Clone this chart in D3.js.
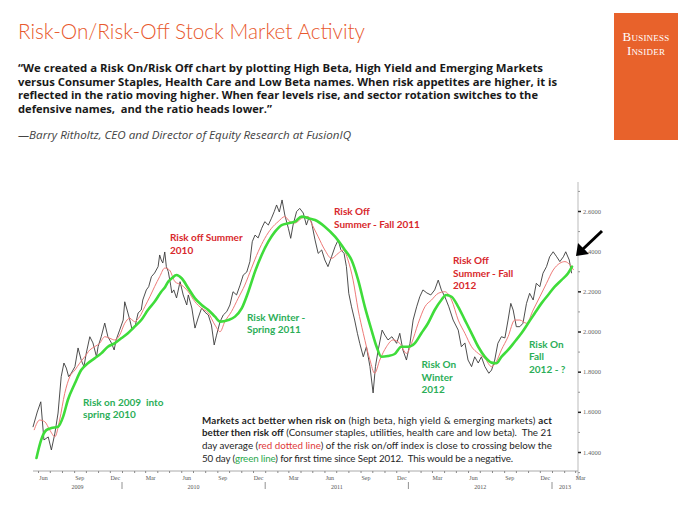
<!DOCTYPE html>
<html><head><meta charset="utf-8">
<script src="https://cdn.jsdelivr.net/npm/d3@7"></script>
<style>html,body{margin:0;padding:0;background:#fff;} svg{display:block}</style>
</head><body>
<svg id="c" width="700" height="525"></svg>
<script>
// ---------- DATA ----------
const titleText = "Risk-On/Risk-Off Stock Market Activity";
const quoteLines = [
  "\u201CWe created a Risk On/Risk Off chart by plotting High Beta, High Yield and Emerging Markets",
  "versus Consumer Staples, Health Care and Low Beta names. When risk appetites are higher, it is",
  "reflected in the ratio moving higher. When fear levels rise, and sector rotation switches to the",
  "defensive names,  and the ratio heads lower.\u201D"
];
const attribution = "\u2014Barry Ritholtz, CEO and Director of Equity Research at FusionIQ";

// Risk on / risk off ratio (daily close, sampled)
const price = [
["2009-05-19",1.524],["2009-05-30",1.599],["2009-06-08",1.650],["2009-06-16",1.460],["2009-06-27",1.475],
["2009-07-05",1.410],["2009-07-14",1.494],["2009-07-22",1.594],["2009-07-30",1.775],["2009-08-06",1.843],
["2009-08-12",1.818],["2009-08-18",1.775],["2009-08-25",1.793],["2009-09-03",1.825],["2009-09-11",1.918],
["2009-09-19",1.858],["2009-09-26",1.825],["2009-10-02",1.893],["2009-10-11",1.974],["2009-10-19",1.943],
["2009-10-28",1.874],["2009-11-01",1.924],["2009-11-09",1.974],["2009-11-18",2.042],["2009-11-26",1.974],
["2009-12-05",1.943],["2009-12-12",1.908],["2009-12-17",1.958],["2009-12-26",2.007],["2010-01-04",2.057],
["2010-01-08",2.148],["2010-01-14",2.107],["2010-01-21",2.057],["2010-01-27",2.007],["2010-02-03",2.022],
["2010-02-11",2.092],["2010-02-19",2.107],["2010-02-23",2.157],["2010-03-04",2.207],["2010-03-10",2.223],
["2010-03-17",2.273],["2010-03-25",2.291],["2010-04-03",2.323],["2010-04-07",2.381],["2010-04-11",2.356],
["2010-04-15",2.341],["2010-04-20",2.396],["2010-04-24",2.323],["2010-04-29",2.298],["2010-05-05",2.231],
["2010-05-08",2.192],["2010-05-13",2.207],["2010-05-20",2.167],["2010-05-29",2.248],["2010-06-06",2.182],
["2010-06-15",2.132],["2010-06-19",2.182],["2010-06-28",2.117],["2010-07-06",2.017],["2010-07-14",2.067],
["2010-07-23",2.117],["2010-07-31",2.097],["2010-08-09",2.082],["2010-08-17",2.032],["2010-08-24",1.933],
["2010-08-30",1.982],["2010-09-08",2.049],["2010-09-16",2.082],["2010-09-25",2.099],["2010-10-03",2.132],
["2010-10-11",2.198],["2010-10-20",2.182],["2010-10-29",2.231],["2010-11-06",2.281],["2010-11-15",2.296],
["2010-11-23",2.348],["2010-11-29",2.447],["2010-12-06",2.480],["2010-12-14",2.466],["2010-12-23",2.514],
["2010-12-31",2.547],["2011-01-09",2.530],["2011-01-17",2.564],["2011-01-24",2.597],["2011-01-30",2.630],
["2011-02-06",2.595],["2011-02-13",2.655],["2011-02-20",2.580],["2011-03-01",2.514],["2011-03-07",2.464],
["2011-03-13",2.530],["2011-03-22",2.597],["2011-03-30",2.613],["2011-04-08",2.590],["2011-04-16",2.530],
["2011-04-22",2.564],["2011-04-29",2.545],["2011-05-08",2.456],["2011-05-16",2.389],["2011-05-25",2.406],
["2011-06-02",2.356],["2011-06-10",2.323],["2011-06-19",2.372],["2011-06-28",2.422],["2011-07-06",2.456],
["2011-07-13",2.406],["2011-07-21",2.389],["2011-07-27",2.323],["2011-08-02",2.190],["2011-08-09",2.123],
["2011-08-17",2.057],["2011-08-24",1.991],["2011-08-30",1.941],["2011-09-08",1.874],["2011-09-16",1.924],
["2011-09-25",1.825],["2011-10-03",1.694],["2011-10-09",1.825],["2011-10-16",1.908],["2011-10-26",2.007],
["2011-11-02",1.982],["2011-11-10",1.958],["2011-11-20",1.974],["2011-12-02",1.941],["2011-12-10",1.991],
["2011-12-18",1.908],["2011-12-27",1.858],["2012-01-05",1.941],["2012-01-13",2.057],["2012-01-22",2.123],
["2012-01-30",2.173],["2012-02-07",2.207],["2012-02-17",2.192],["2012-02-27",2.182],["2012-03-08",2.207],
["2012-03-17",2.256],["2012-03-25",2.207],["2012-04-03",2.173],["2012-04-13",2.123],["2012-04-24",2.057],
["2012-05-07",2.007],["2012-05-15",1.924],["2012-05-24",1.943],["2012-06-01",1.858],["2012-06-10",1.825],
["2012-06-18",1.874],["2012-06-27",1.843],["2012-07-05",1.874],["2012-07-14",1.825],["2012-07-24",1.792],
["2012-07-31",1.808],["2012-08-08",1.858],["2012-08-16",1.941],["2012-08-25",1.974],["2012-09-03",1.968],
["2012-09-11",2.057],["2012-09-18",2.140],["2012-09-24",2.107],["2012-10-02",2.024],["2012-10-11",2.024],
["2012-10-19",2.041],["2012-10-28",2.140],["2012-11-05",2.190],["2012-11-14",2.157],["2012-11-22",2.240],
["2012-12-01",2.223],["2012-12-09",2.290],["2012-12-18",2.323],["2012-12-26",2.372],["2013-01-04",2.397],
["2013-01-13",2.372],["2013-01-21",2.348],["2013-01-30",2.372],["2013-02-05",2.397],["2013-02-14",2.356],
["2013-02-20",2.290]
];

// 21-day average (red)
const ma21 = [
["2009-05-22",1.509],["2009-06-05",1.559],["2009-06-18",1.551],["2009-07-01",1.509],["2009-07-14",1.476],
["2009-07-26",1.559],["2009-08-08",1.692],["2009-08-21",1.775],["2009-09-03",1.808],["2009-09-15",1.842],
["2009-09-28",1.874],["2009-10-11",1.908],["2009-10-23",1.924],["2009-11-05",1.941],["2009-11-18",1.974],
["2009-12-01",1.966],["2009-12-13",1.958],["2009-12-26",1.982],["2010-01-08",2.041],["2010-01-21",2.066],
["2010-02-02",2.049],["2010-02-15",2.074],["2010-02-28",2.123],["2010-03-13",2.173],["2010-03-25",2.223],
["2010-04-07",2.273],["2010-04-20",2.316],["2010-05-02",2.306],["2010-05-16",2.248],["2010-06-02",2.231],
["2010-06-19",2.198],["2010-07-06",2.148],["2010-07-23",2.115],["2010-08-09",2.092],["2010-08-26",2.032],
["2010-09-08",1.999],["2010-09-20",2.049],["2010-10-07",2.099],["2010-10-24",2.165],["2010-11-10",2.231],
["2010-11-27",2.315],["2010-12-14",2.397],["2010-12-31",2.464],["2011-01-17",2.514],["2011-02-03",2.547],
["2011-02-20",2.572],["2011-03-05",2.547],["2011-03-18",2.540],["2011-04-04",2.564],["2011-04-21",2.572],
["2011-04-29",2.539],["2011-05-16",2.472],["2011-06-02",2.406],["2011-06-19",2.364],["2011-07-06",2.389],
["2011-07-19",2.406],["2011-07-31",2.356],["2011-08-13",2.256],["2011-08-26",2.107],["2011-09-08",1.991],
["2011-09-25",1.858],["2011-10-07",1.792],["2011-10-20",1.858],["2011-11-06",1.924],["2011-11-23",1.958],
["2011-12-10",1.941],["2011-12-27",1.891],["2012-01-09",1.941],["2012-01-26",2.041],["2012-02-12",2.123],
["2012-02-29",2.157],["2012-03-17",2.190],["2012-04-03",2.198],["2012-04-20",2.157],["2012-05-07",2.057],
["2012-05-24",1.991],["2012-06-10",1.924],["2012-06-27",1.891],["2012-07-14",1.866],["2012-07-31",1.825],
["2012-08-12",1.850],["2012-08-25",1.908],["2012-09-11",1.974],["2012-09-28",2.057],["2012-10-11",2.057],
["2012-10-28",2.041],["2012-11-14",2.107],["2012-12-01",2.173],["2012-12-18",2.240],["2013-01-04",2.306],
["2013-01-21",2.340],["2013-02-03",2.348],["2013-02-16",2.331],["2013-02-25",2.306]
];

// 50-day average (green)
const ma50 = [
["2009-05-28",1.370],["2009-06-09",1.460],["2009-06-22",1.509],["2009-07-05",1.519],["2009-07-22",1.526],
["2009-08-04",1.576],["2009-08-16",1.659],["2009-09-03",1.742],["2009-09-19",1.808],["2009-10-06",1.842],
["2009-10-23",1.866],["2009-11-09",1.891],["2009-11-26",1.924],["2009-12-13",1.941],["2009-12-30",1.966],
["2010-01-16",1.991],["2010-02-02",2.024],["2010-02-19",2.057],["2010-03-08",2.107],["2010-03-25",2.148],
["2010-04-11",2.198],["2010-04-21",2.222],["2010-04-29",2.249],["2010-05-08",2.265],["2010-05-20",2.281],
["2010-06-02",2.265],["2010-06-19",2.215],["2010-07-06",2.165],["2010-07-23",2.132],["2010-08-09",2.107],
["2010-08-26",2.074],["2010-09-08",2.049],["2010-09-29",2.057],["2010-10-16",2.074],["2010-11-02",2.115],
["2010-11-19",2.198],["2010-12-06",2.298],["2010-12-23",2.381],["2011-01-09",2.447],["2011-01-26",2.497],
["2011-02-12",2.530],["2011-03-01",2.539],["2011-03-18",2.547],["2011-04-04",2.572],["2011-04-21",2.564],
["2011-05-08",2.555],["2011-06-02",2.522],["2011-06-28",2.472],["2011-07-23",2.406],["2011-08-09",2.356],
["2011-08-26",2.256],["2011-09-12",2.123],["2011-09-29",2.007],["2011-10-12",1.924],["2011-10-24",1.874],
["2011-11-10",1.878],["2011-11-27",1.888],["2011-12-14",1.924],["2011-12-31",1.924],["2012-01-17",1.941],
["2012-02-03",1.991],["2012-02-20",2.041],["2012-03-08",2.107],["2012-03-25",2.157],["2012-04-06",2.182],
["2012-04-20",2.173],["2012-05-07",2.123],["2012-05-24",2.057],["2012-06-10",1.991],["2012-06-27",1.924],
["2012-07-14",1.874],["2012-07-31",1.845],["2012-08-12",1.842],["2012-08-25",1.874],["2012-09-11",1.908],
["2012-09-28",1.949],["2012-10-15",1.991],["2012-11-01",2.041],["2012-11-18",2.091],["2012-12-05",2.140],
["2012-12-22",2.182],["2013-01-08",2.223],["2013-01-25",2.256],["2013-02-11",2.290],["2013-02-21",2.323]
];

const yTickValues = [1.4, 1.6, 1.8, 2.0, 2.2, 2.4, 2.6];
const yMinorValues = [1.3, 1.5, 1.7, 1.9, 2.1, 2.3, 2.5, 2.7];
const monthLabels = ["Jun","Sep","Dec","Mar"];
const yearLabels = ["2009","2010","2011","2012","2013"];

const annotations = [
  {lines:["Risk off Summer","2010"], x:170, y:241, color:"red"},
  {lines:["Risk Winter -","Spring 2011"], x:247, y:320.5, color:"green"},
  {lines:["Risk on 2009  into","spring 2010"], x:83, y:405.5, color:"green"},
  {lines:["Risk Off","Summer - Fall 2011"], x:334, y:215, color:"red"},
  {lines:["Risk Off","Summer - Fall","2012"], x:453, y:264, color:"red"},
  {lines:["Risk On","Winter","2012"], x:421.5, y:368, color:"green"},
  {lines:["Risk On","Fall","2012 - ?"], x:529, y:347.5, color:"green"}
];

const noteLines = [
  [{t:"Markets act better when risk on", b:true},{t:" (high beta, high yield & emerging markets) "},{t:"act", b:true}],
  [{t:"better then risk off", b:true},{t:" (Consumer staples, utilities, health care and low beta).  The 21"}],
  [{t:"day average ("},{t:"red dotted line", c:"red"},{t:") of the risk on/off index is close to crossing below the"}],
  [{t:"50 day ("},{t:"green line", c:"green"},{t:") for first time since Sept 2012.  This would be a negative."}]
];

// ---------- DRAW ----------
const C = {title:"#e8592d", red:"#d8282c", green:"#2cae58", lineGreen:"#3fdc3a", lineRed:"#ee7a78", price:"#3a3a3a", bi:"#e8622b"};
const svg = d3.select("#c");
const parse = d3.timeParse("%Y-%m-%d");

// header
svg.append("text").attr("x",18).attr("y",38.5)
  .attr("font-family","Lato, 'Open Sans', sans-serif").attr("font-weight",300)
  .attr("font-size",21).attr("fill",C.title)
  .attr("textLength",347).attr("lengthAdjust","spacingAndGlyphs").text(titleText);

const qWidths = [525, 539, 520, 254];
quoteLines.forEach((l,i)=>{
  svg.append("text").attr("x",18).attr("y",72 + i*13.6)
    .attr("font-family","'Open Sans', sans-serif").attr("font-weight",700)
    .attr("font-size",11.4).attr("fill","#1a1a1a").style("white-space","pre")
    .attr("textLength",qWidths[i]).attr("lengthAdjust","spacingAndGlyphs").text(l);
});
svg.append("text").attr("x",18).attr("y",138.5)
  .attr("font-family","'Open Sans', sans-serif").attr("font-style","italic")
  .attr("font-size",10.5).attr("fill","#444")
  .attr("textLength",333).attr("lengthAdjust","spacingAndGlyphs").text(attribution);

// BI logo
svg.append("rect").attr("x",614).attr("y",13).attr("width",64).attr("height",127).attr("fill",C.bi);
["Business","Insider"].forEach((w,i)=>{
  svg.append("text").attr("x",646).attr("y",41+i*13.5).attr("text-anchor","middle")
    .attr("font-family","'Liberation Serif', 'DejaVu Serif', serif").attr("font-size",13)
    .attr("font-variant","small-caps").attr("fill","#fff").attr("letter-spacing",0.2).text(w);
});

// scales
const x = d3.scaleTime().domain([new Date(2010,0,1), new Date(2013,0,1)]).range([122,552]);
const y = d3.scaleLinear().domain([1.4,2.6]).range([452,211]);

// right axis
svg.append("line").attr("x1",578).attr("x2",578).attr("y1",182).attr("y2",478).attr("stroke","#bbb").attr("stroke-width",1);
const ax = svg.append("g").attr("transform","translate(578,0)")
  .call(d3.axisRight(y).tickValues(yTickValues).tickFormat(d3.format(".4f")).tickSize(3).tickPadding(2));
ax.select(".domain").remove();
ax.selectAll("line").attr("stroke","#222").attr("stroke-width",1.5);
ax.selectAll("text").attr("font-family","'Liberation Serif', serif").attr("font-size",6.5).attr("fill","#666");
const axm = svg.append("g").attr("transform","translate(578,0)")
  .call(d3.axisRight(y).tickValues(yMinorValues).tickFormat("").tickSize(2));
axm.select(".domain").remove();
axm.selectAll("line").attr("stroke","#999");

// bottom axis
svg.append("line").attr("x1",33).attr("x2",578).attr("y1",471).attr("y2",471).attr("stroke","#aaa");
const months = d3.timeMonth.range(new Date(2009,5,1), new Date(2013,2,15));
const bx = svg.append("g").attr("transform","translate(0,471)")
  .call(d3.axisBottom(x).tickValues(months).tickFormat("").tickSize(2));
bx.select(".domain").remove();
bx.selectAll("line").attr("stroke","#888");
const labelMonths = months.filter(m=>monthLabels.includes(d3.timeFormat("%b")(m)))
  .map(m=>new Date(m.getFullYear(), m.getMonth(), 15));
svg.append("g").selectAll("text").data(labelMonths).join("text")
  .attr("x",d=>x(d)).attr("y",480).attr("text-anchor","middle")
  .attr("font-family","'Liberation Serif', serif").attr("font-size",6).attr("fill","#555")
  .text(d=>d3.timeFormat("%b")(d));
const domStart = x.invert(33), domEnd = x.invert(578);
const yearCenters = yearLabels.map(yr=>{
  const a = new Date(+yr,0,1), b = new Date(+yr+1,0,1);
  const s = a < domStart ? domStart : a, e = b > domEnd ? domEnd : b;
  return {yr, xm:(x(s)+x(e))/2};
});
svg.append("g").selectAll("text").data(yearCenters).join("text")
  .attr("x",d=>d.xm).attr("y",489).attr("text-anchor","middle")
  .attr("font-family","'Liberation Serif', serif").attr("font-size",6).attr("fill","#555").text(d=>d.yr);
const yearStarts = yearLabels.slice(1).map(yr=>new Date(+yr,0,1));
svg.append("g").selectAll("line").data(yearStarts).join("line")
  .attr("x1",d=>x(d)).attr("x2",d=>x(d)).attr("y1",482).attr("y2",489).attr("stroke","#777").attr("stroke-width",0.8);

// series
const toPts = arr => arr.map(([d,v])=>[parse(d),v]);
const line = d3.line().x(d=>x(d[0])).y(d=>y(d[1]));
const smooth = d3.line().x(d=>x(d[0])).y(d=>y(d[1])).curve(d3.curveMonotoneX);
svg.append("path").attr("d",line(toPts(price))).attr("fill","none").attr("stroke",C.price).attr("stroke-width",0.9).attr("stroke-linejoin","round");
svg.append("path").attr("d",smooth(toPts(ma21))).attr("fill","none").attr("stroke",C.lineRed).attr("stroke-width",1);
svg.append("path").attr("d",smooth(toPts(ma50))).attr("fill","none").attr("stroke",C.lineGreen).attr("stroke-width",2.6).attr("stroke-linecap","round");

// annotations
annotations.forEach(a=>{
  const t = svg.append("text").attr("font-family","Lato, sans-serif").attr("font-weight",700)
    .attr("font-size",10).attr("fill",a.color==="red"?C.red:C.green).style("white-space","pre");
  a.lines.forEach((l,i)=>t.append("tspan").attr("x",a.x).attr("y",a.y+i*12.7).text(l));
});

// arrow
svg.append("line").attr("x1",602).attr("y1",231).attr("x2",582).attr("y2",250).attr("stroke","#000").attr("stroke-width",3);
svg.append("path").attr("d","M576,256 L578,243 L589,254 Z").attr("fill","#000");

// note box
const nW = [350, 350, 350, 311];
noteLines.forEach((parts,i)=>{
  const t = svg.append("text").attr("x",202).attr("y",423.5+i*12.7)
    .attr("font-family","Lato, sans-serif").attr("font-size",9.8).attr("fill","#1f1f1f")
    .style("white-space","pre").attr("textLength",nW[i]).attr("lengthAdjust","spacing");
  parts.forEach(p=>t.append("tspan").attr("font-weight",p.b?700:400)
    .attr("fill",p.c==="red"?"#e0393a":p.c==="green"?"#2aa84c":null).text(p.t));
});
</script>
</body></html>
